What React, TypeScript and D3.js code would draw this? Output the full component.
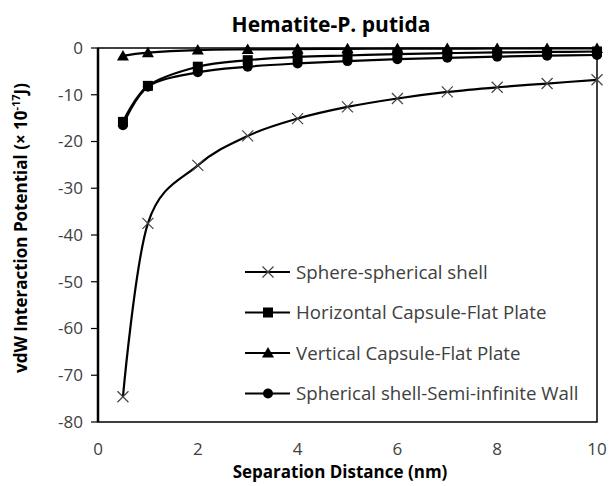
import * as d3 from 'd3';

// --- data ---
const distance = [0.5, 1, 2, 3, 4, 5, 6, 7, 8, 9, 10];
const sphereShell = [-74.6, -37.5, -25.1, -18.8, -15.1, -12.6, -10.8, -9.4, -8.4, -7.6, -6.8];
const horizCapsule = [-15.8, -8.1, -4.0, -2.6, -1.9, -1.6, -1.3, -1.1, -0.95, -0.85, -0.75];
const vertCapsule = [-1.7, -1.0, -0.45, -0.3, -0.22, -0.18, -0.15, -0.13, -0.11, -0.1, -0.09];
const shellWall = [-16.5, -8.3, -5.2, -4.0, -3.3, -2.8, -2.4, -2.1, -1.85, -1.65, -1.5];
const seriesNames = [
  'Sphere-spherical shell',
  'Horizontal Capsule-Flat Plate',
  'Vertical Capsule-Flat Plate',
  'Spherical shell-Semi-infinite Wall',
];
const markerKinds = ['cross', 'square', 'triangle', 'circle'];
const xTicks = [0, 2, 4, 6, 8, 10];
const yTicks = [0, -10, -20, -30, -40, -50, -60, -70, -80];

const FONT = '"Open Sans", sans-serif';

const Marker = ({ kind, x, y }: { kind: string; x: number; y: number }) => {
  if (kind === 'cross') {
    const s = 5.5;
    return (
      <path
        d={`M${x - s},${y - s}L${x + s},${y + s}M${x - s},${y + s}L${x + s},${y - s}`}
        stroke="#444"
        strokeWidth={1.2}
        fill="none"
      />
    );
  }
  if (kind === 'square') return <rect x={x - 5} y={y - 5} width={10} height={10} fill="#000" />;
  if (kind === 'triangle') return <path d={`M${x},${y - 6}L${x + 6},${y + 4.5}L${x - 6},${y + 4.5}Z`} fill="#000" />;
  return <circle cx={x} cy={y} r={5} fill="#000" />;
};

function App() {
  const width = 609;
  const height = 486;
  const left = 98, right = 597, top = 48, bottom = 422;

  const x = d3.scaleLinear().domain([0, 10]).range([left, right]);
  const y = d3.scaleLinear().domain([-80, 0]).range([bottom, top]);

  const line = d3
    .line<[number, number]>()
    .x((d) => x(d[0]))
    .y((d) => y(d[1]))
    .curve(d3.curveCatmullRom.alpha(0));

  const allSeries = [sphereShell, horizCapsule, vertCapsule, shellWall];

  return (
    <svg width={width} height={height} style={{ position: 'absolute', left: 0, top: 0, fontFamily: FONT }}>
      <rect width={width} height={height} fill="#fff" />

      {/* title */}
      <text x={331} y={32} textAnchor="middle" fontSize={21} fontWeight="bold" fill="#000">
        Hematite-P. putida
      </text>

      {/* plot frame */}
      <rect x={left} y={top} width={right - left} height={bottom - top} fill="none" stroke="#000" strokeWidth={1.5} />
      <line x1={left} x2={left} y1={top} y2={bottom} stroke="#000" strokeWidth={2.5} />

      {/* y ticks */}
      {yTicks.map((t) => (
        <g key={t}>
          <line x1={left - 7} x2={left} y1={y(t)} y2={y(t)} stroke="#000" strokeWidth={1.2} />
          <text x={83} y={y(t)} dy="0.35em" textAnchor="end" fontSize={17} fill="#404040">
            {t}
          </text>
        </g>
      ))}

      {/* x tick labels */}
      {xTicks.map((t) => (
        <text key={t} x={x(t)} y={455} textAnchor="middle" fontSize={17} fill="#404040">
          {t}
        </text>
      ))}

      {/* axis titles */}
      <text x={340} y={478} textAnchor="middle" fontSize={17} fontWeight="bold" fill="#000">
        Separation Distance (nm)
      </text>
      <text
        transform={`translate(27,${228}) rotate(-90)`}
        textAnchor="middle"
        fontSize={17}
        fontWeight="bold"
        fill="#000"
      >
        vdW Interaction Potential (× 10
        <tspan dy={-7} fontSize={11}>-17</tspan>
        <tspan dy={7}>J)</tspan>
      </text>

      {/* series */}
      {allSeries.map((vals, i) => {
        const pts = distance.map((d, j) => [d, vals[j]] as [number, number]);
        return (
          <g key={seriesNames[i]}>
            <path d={line(pts) || ''} fill="none" stroke="#000" strokeWidth={2.2} />
            {pts.map((p, j) => (
              <Marker key={j} kind={markerKinds[i]} x={x(p[0])} y={y(p[1])} />
            ))}
          </g>
        );
      })}

      {/* legend */}
      {seriesNames.map((name, i) => {
        const ly = 272 + i * 40.5;
        return (
          <g key={name}>
            <line x1={245} x2={290} y1={ly} y2={ly} stroke="#000" strokeWidth={2.2} />
            <Marker kind={markerKinds[i]} x={268} y={ly} />
            <text x={296} y={ly} dy="0.35em" fontSize={18.7} fill="#404040">
              {name}
            </text>
          </g>
        );
      })}
    </svg>
  );
}

export default App;
